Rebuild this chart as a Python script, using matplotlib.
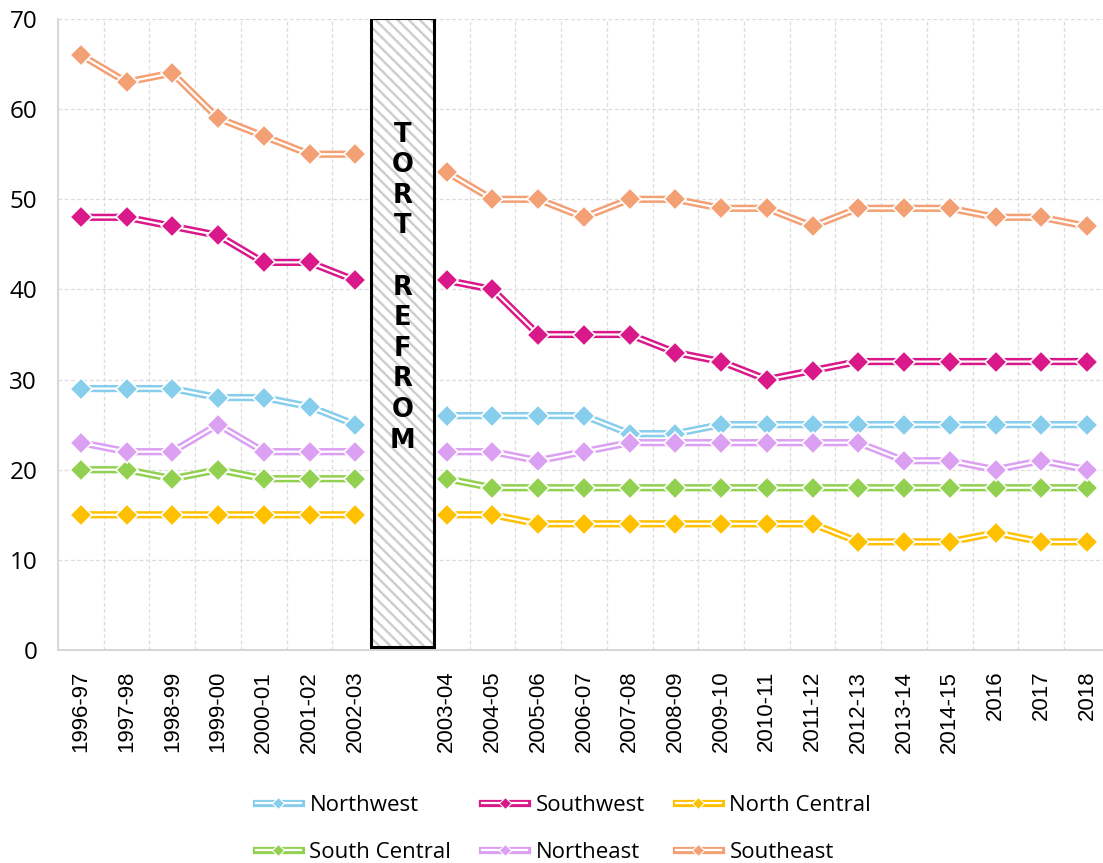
import matplotlib
matplotlib.use("Agg")
import matplotlib.pyplot as plt
from matplotlib.lines import Line2D
from matplotlib.patches import Rectangle
import numpy as np

categories = ["1996-97", "1997-98", "1998-99", "1999-00", "2000-01", "2001-02", "2002-03", "",
              "2003-04", "2004-05", "2005-06", "2006-07", "2007-08", "2008-09", "2009-10",
              "2010-11", "2011-12", "2012-13", "2013-14", "2014-15", "2016", "2017", "2018"]

nan = np.nan
northwest = [29, 29, 29, 28, 28, 27, 25, nan, 26, 26, 26, 26, 24, 24, 25, 25, 25, 25, 25, 25, 25, 25, 25]
southwest = [48, 48, 47, 46, 43, 43, 41, nan, 41, 40, 35, 35, 35, 33, 32, 30, 31, 32, 32, 32, 32, 32, 32]
north_central = [15, 15, 15, 15, 15, 15, 15, nan, 15, 15, 14, 14, 14, 14, 14, 14, 14, 12, 12, 12, 13, 12, 12]
south_central = [20, 20, 19, 20, 19, 19, 19, nan, 19, 18, 18, 18, 18, 18, 18, 18, 18, 18, 18, 18, 18, 18, 18]
northeast = [23, 22, 22, 25, 22, 22, 22, nan, 22, 22, 21, 22, 23, 23, 23, 23, 23, 23, 21, 21, 20, 21, 20]
southeast = [66, 63, 64, 59, 57, 55, 55, nan, 53, 50, 50, 48, 50, 50, 49, 49, 47, 49, 49, 49, 48, 48, 47]

series_names = ["Northwest", "Southwest", "North Central", "South Central", "Northeast", "Southeast"]
series_values = [northwest, southwest, north_central, south_central, northeast, southeast]
series_colors = ["#87CDEC", "#D9198A", "#FFC000", "#92D050", "#DCA0F2", "#F3A074"]

box_label = "TORT REFROM"

fig = plt.figure(figsize=(11.03, 8.63), dpi=100)
ax = fig.add_axes([58 / 1103, 1 - 650 / 863, 1 - 58 / 1103, (650 - 19) / 863])

x = np.arange(len(categories))
handles = []
for name, vals, col in zip(series_names, series_values, series_colors):
    v = np.array(vals, dtype=float)
    ax.plot(x, v, color=col, lw=5.2, solid_capstyle="butt", zorder=3)
    ax.plot(x, v, color="white", lw=1.6, solid_capstyle="butt", zorder=3.1)
    ax.plot(x, v, ls="none", marker="D", ms=11, mfc=col, mec="white", mew=1.2, zorder=3.2)
    h = (Line2D([], [], color=col, lw=5.2),
         Line2D([], [], color="white", lw=1.6),
         Line2D([], [], ls="none", marker="D", ms=6, mfc=col, mec="white", mew=0.8))
    handles.append(h)

ax.set_xlim(-0.5, 22.35)
ax.set_ylim(0, 70)
ax.set_yticks(np.arange(0, 71, 10))
ax.set_xticks(x)
ax.set_xticklabels(categories, rotation=90, fontsize=16, family="Liberation Sans")
ax.set_xticks(x[:-1] + 0.5, minor=True)
ax.tick_params(axis="both", which="both", length=0)
ax.tick_params(axis="x", pad=15)
ax.tick_params(axis="y", pad=15, labelsize=17.5)
for lab in ax.get_yticklabels():
    lab.set_family("Open Sans")

ax.grid(axis="y", which="major", color="#dcdcdc", ls=(0, (3, 2)), lw=0.9)
ax.grid(axis="x", which="minor", color="#dcdcdc", ls=(0, (3, 2)), lw=0.9)
ax.set_axisbelow(True)
for s in ["top", "right"]:
    ax.spines[s].set_visible(False)
for s in ["left", "bottom"]:
    ax.spines[s].set_color("#d0d0d0")
    ax.spines[s].set_linewidth(1.2)

# Tort reform box
plt.rcParams["hatch.linewidth"] = 1.7
ax.add_patch(Rectangle((6.34, 0.33), 1.38, 69.8, facecolor="white", edgecolor="#cdcdcd",
                       hatch="\\\\\\", lw=0, zorder=4))
ax.add_patch(Rectangle((6.34, 0.33), 1.38, 69.8, facecolor="none", edgecolor="black",
                       lw=2.2, zorder=4.1))
ax.text(7.03, 40.2, "\n".join(box_label), ha="center", va="center", fontsize=18.5,
        fontweight="bold", family="DejaVu Sans", linespacing=1.23, zorder=5)

order = [0, 3, 1, 4, 2, 5]
fig.legend([handles[i] for i in order], [series_names[i] for i in order],
           ncol=3, loc="upper center", bbox_to_anchor=(0.511, 0.102), frameon=False,
           prop={"family": "Open Sans", "size": 16}, handlelength=2.0, handletextpad=0.4,
           columnspacing=1.4, labelspacing=1.15)

fig.savefig("out.png", dpi=100)
